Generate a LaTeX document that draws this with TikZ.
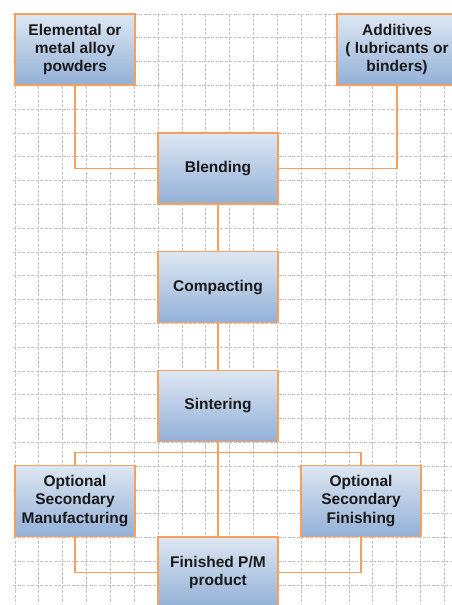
\documentclass[tikz,border=0pt]{standalone}
\usepackage{fontspec}
\setmainfont{Liberation Sans}
\definecolor{edgeor}{RGB}{247,160,92}
\definecolor{boxtop}{RGB}{221,231,243}
\definecolor{boxbot}{RGB}{146,176,214}
\definecolor{gridc}{RGB}{195,195,195}
\begin{document}
\begin{tikzpicture}[x=1pt,y=-1pt,
  pbox/.style={draw=edgeor, line width=1.3pt, top color=boxtop, bottom color=boxbot,
    minimum width=120pt, minimum height=71pt, inner sep=0pt, align=center,
    font=\fontsize{15.5}{18.3}\selectfont\bfseries, text=black!90},
  conn/.style={draw=edgeor, line width=1.3pt},
  gridl/.style={draw=gridc, line width=0.8pt, dash pattern=on 3pt off 1.5pt}]
\useasboundingbox (0,0) rectangle (452,605);
\clip (0,0) rectangle (452,605);
\fill[white] (0,0) rectangle (452,605);
% grid
\foreach \k in {0,...,18} {\draw[gridl] ({15+23.85*\k},14) -- ({15+23.85*\k},605);}
\foreach \k in {0,...,24} {\draw[gridl] (13,{14+23.8*\k}) -- (452,{14+23.8*\k});}
% nodes
\node[pbox] (el) at (75,49.5) {Elemental or\\metal alloy\\powders};
\node[pbox] (ad) at (397,49.5) {Additives\\( lubricants or\\binders)};
\node[pbox] (bl) at (218,168.5) {Blending};
\node[pbox] (co) at (218,287.2) {Compacting};
\node[pbox] (si) at (218,406) {Sintering};
\node[pbox] (osm) at (75,501) {Optional\\Secondary\\Manufacturing};
\node[pbox] (osf) at (361,501) {Optional\\Secondary\\Finishing};
\node[pbox] (fi) at (218,572.5) {Finished P/M\\product};
% connectors
\draw[conn] (el.south) |- (bl.west);
\draw[conn] (ad.south) |- (bl.east);
\draw[conn] (bl.south) -- (co.north);
\draw[conn] (co.south) -- (si.north);
\draw[conn] (si.south) -- (fi.north);
\draw[conn] (osm.north) -- ++(0,-12.7) -| (osf.north);
\draw[conn] (osm.south) |- (fi.west);
\draw[conn] (osf.south) |- (fi.east);
\end{tikzpicture}
\end{document}
